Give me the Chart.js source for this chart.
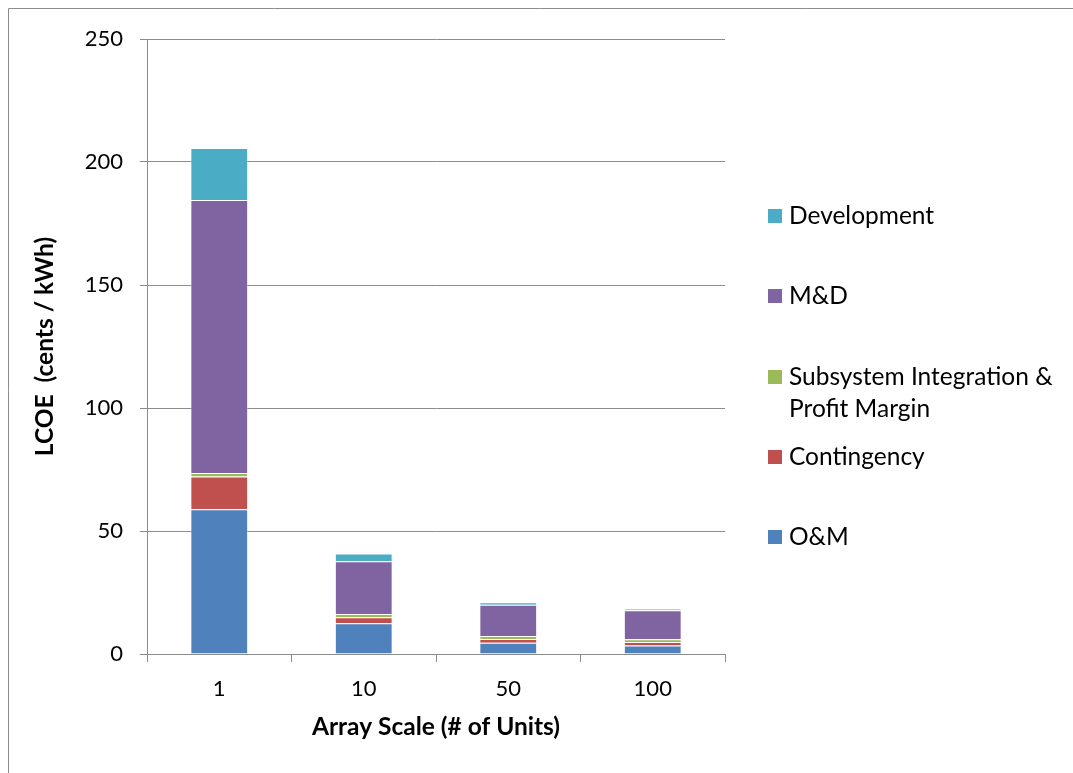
<!DOCTYPE html>
<html>
<head>
<meta charset="utf-8">
<script src="https://cdn.jsdelivr.net/npm/chart.js@4/dist/chart.umd.min.js"></script>
<style>
  html, body { margin: 0; padding: 0; background: #fff; }
  #wrap { width: 1073px; height: 773px; position: relative; }
</style>
</head>
<body>
<div id="wrap"><canvas id="c" width="1073" height="773"></canvas></div>
<script>
// Array scale categories and LCOE components (cents / kWh)
const categories = ['1', '10', '50', '100'];
const omValues = [58.8, 12.5, 4.6, 3.5];
const contingencyValues = [13.4, 2.4, 1.5, 1.4];
const subsystemValues = [1.4, 1.4, 1.2, 1.1];
const mdValues = [111.0, 21.4, 12.7, 11.8];
const developmentValues = [21.1, 3.2, 1.0, 0.5];
const yTicks = [0, 50, 100, 150, 200, 250];

const seriesNames = ['O&M', 'Contingency', 'Subsystem Integration & Profit Margin', 'M&D', 'Development'];
const seriesColors = ['#4F81BD', '#C0504D', '#9BBB59', '#8064A2', '#4BACC6'];
const seriesValues = [omValues, contingencyValues, subsystemValues, mdValues, developmentValues];

const FONT = 'Lato, "Open Sans", sans-serif';
const GRID = '#8c8c8c';

// Legend on the right, listed from top series to bottom series
const legendLayout = { squareX: 768, textX: 789, square: 14, maxWidth: 300, lineHeight: 32,
  centers: { 'Development': 216, 'M&D': 296, 'Subsystem Integration & Profit Margin': 377, 'Contingency': 457, 'O&M': 537 } };

const legendPlugin = {
  id: 'sideLegend',
  afterDraw(chart) {
    const ctx = chart.ctx;
    ctx.save();
    ctx.font = '24.5px ' + FONT;
    ctx.textBaseline = 'middle';
    ctx.textAlign = 'left';
    chart.data.datasets.slice().reverse().forEach(ds => {
      const cy = legendLayout.centers[ds.label];
      ctx.fillStyle = ds.backgroundColor;
      ctx.fillRect(legendLayout.squareX, cy - legendLayout.square / 2, legendLayout.square, legendLayout.square);
      // wrap long labels
      const words = ds.label.split(' ');
      const lines = [];
      let line = '';
      words.forEach(w => {
        const t = line ? line + ' ' + w : w;
        if (ctx.measureText(t).width > legendLayout.maxWidth && line) { lines.push(line); line = w; }
        else line = t;
      });
      lines.push(line);
      ctx.fillStyle = '#000';
      lines.forEach((l, i) => ctx.fillText(l, legendLayout.textX, cy + i * legendLayout.lineHeight));
    });
    ctx.restore();
  }
};

// Frame around the chart object
const framePlugin = {
  id: 'frame',
  beforeDraw(chart) {
    const ctx = chart.ctx;
    ctx.save();
    ctx.strokeStyle = GRID;
    ctx.lineWidth = 1;
    ctx.beginPath();
    ctx.moveTo(8.5, chart.height);
    ctx.lineTo(8.5, 8.5);
    ctx.lineTo(chart.width, 8.5);
    ctx.stroke();
    ctx.restore();
  }
};

new Chart(document.getElementById('c'), {
  type: 'bar',
  data: {
    labels: categories,
    datasets: seriesNames.map((name, i) => ({
      label: name,
      data: seriesValues[i],
      backgroundColor: seriesColors[i],
      borderColor: 'rgba(255,255,255,0.4)',
      borderWidth: 1,
      categoryPercentage: 1.0,
      barPercentage: 0.4
    }))
  },
  options: {
    responsive: false,
    animation: false,
    devicePixelRatio: 1,
    layout: { padding: { left: 26, top: 39, right: 348, bottom: 27 } },
    plugins: { legend: { display: false }, tooltip: { enabled: false } },
    scales: {
      x: {
        stacked: true,
        afterFit(scale) { scale.height = 92; },
        grid: { offset: true, drawOnChartArea: false, drawTicks: true, tickLength: 8, color: GRID },
        border: { color: GRID, width: 1 },
        ticks: { font: { family: FONT, size: 22 }, color: '#000', padding: 14 },
        title: { display: true, text: 'Array Scale (# of Units)', font: { family: FONT, size: 24.5, weight: 'bold' }, color: '#000', padding: { top: 4, bottom: 4 } }
      },
      y: {
        stacked: true,
        min: 0, max: 250,
        afterFit(scale) { scale.width = 121; },
        afterBuildTicks(scale) { scale.ticks = yTicks.map(v => ({ value: v })); },
        grid: { color: GRID, tickLength: 7 },
        border: { color: GRID, width: 1 },
        ticks: { font: { family: FONT, size: 22 }, color: '#000', padding: 17 },
        title: { display: true, text: 'LCOE  (cents / kWh)', font: { family: FONT, size: 24.5, weight: 'bold' }, color: '#000', padding: { top: 4, bottom: 4 } }
      }
    }
  },
  plugins: [framePlugin, legendPlugin]
});
</script>
</body>
</html>
